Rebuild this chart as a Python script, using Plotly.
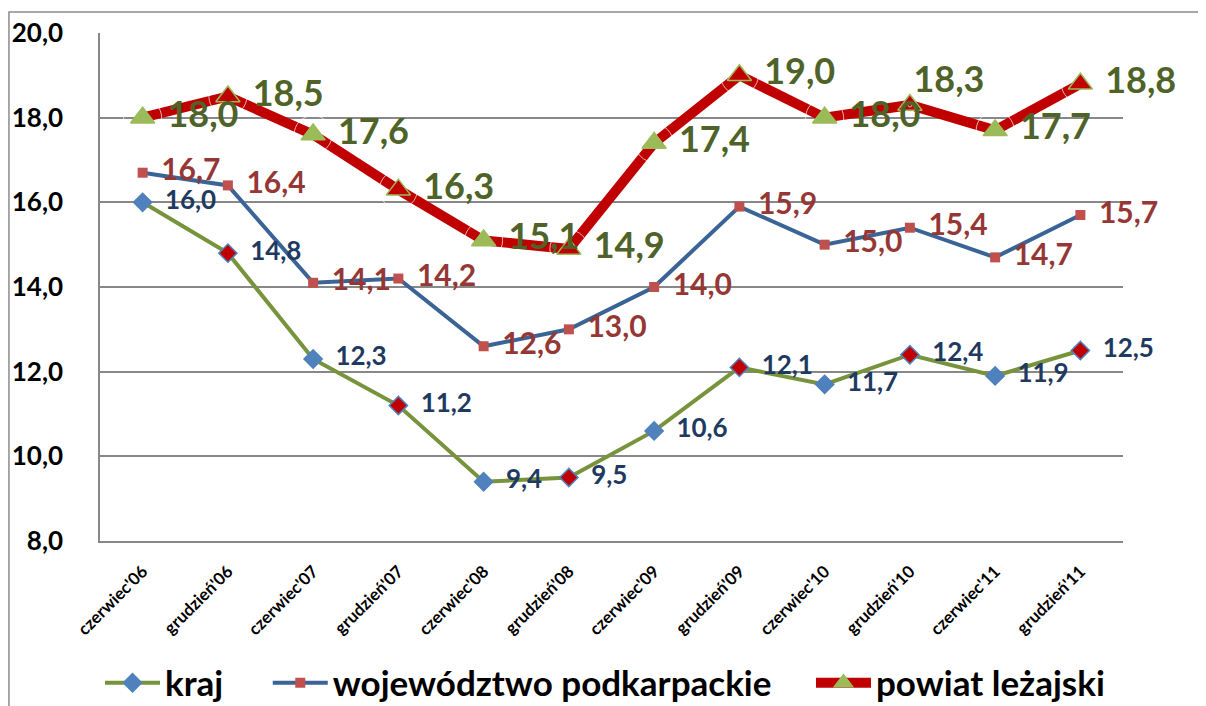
import plotly.graph_objects as go

categories = ["czerwiec'06", "grudzień'06", "czerwiec'07", "grudzień'07", "czerwiec'08", "grudzień'08",
              "czerwiec'09", "grudzień'09", "czerwiec'10", "grudzień'10", "czerwiec'11", "grudzień'11"]
kraj = [16.0, 14.8, 12.3, 11.2, 9.4, 9.5, 10.6, 12.1, 11.7, 12.4, 11.9, 12.5]
wojewodztwo = [16.7, 16.4, 14.1, 14.2, 12.6, 13.0, 14.0, 15.9, 15.0, 15.4, 14.7, 15.7]
powiat = [18.0, 18.5, 17.6, 16.3, 15.1, 14.9, 17.4, 19.0, 18.0, 18.3, 17.7, 18.8]
series_names = ["kraj", "województwo podkarpackie", "powiat leżajski"]
y_ticks = [8, 10, 12, 14, 16, 18, 20]

FONT = "Lato"


def lab(vals):
    return [f"{v:.1f}".replace(".", ",") for v in vals]


is_june = [c.startswith("czerwiec") for c in categories]
kraj_fill = ["#4F81BD" if j else "#C00000" for j in is_june]
pow_fill = ["#9BBB59" if j else "#C00000" for j in is_june]

fig = go.Figure()

fig.add_trace(go.Scatter(
    x=categories, y=kraj, name=series_names[0], mode="lines+markers", legend="legend",
    line=dict(color="#77933C", width=4),
    marker=dict(symbol="diamond", size=14, color=kraj_fill, line=dict(color="#4F81BD", width=1.5)),
    cliponaxis=False,
))
fig.add_trace(go.Scatter(
    x=categories, y=wojewodztwo, name=series_names[1], mode="lines+markers", legend="legend2",
    line=dict(color="#3A6396", width=4),
    marker=dict(symbol="square", size=10, color="#C0504D"),
    cliponaxis=False,
))
fig.add_trace(go.Scatter(
    x=categories, y=powiat, name=series_names[2], mode="lines+markers", legend="legend3",
    line=dict(color="#C00000", width=10),
    marker=dict(symbol="triangle-up", size=21, color=pow_fill, line=dict(color="#9BBB59", width=1.5)),
    cliponaxis=False,
))

# data labels drawn on top of all series
fig.add_trace(go.Scatter(
    x=categories, y=kraj, mode="markers+text", showlegend=False, hoverinfo="skip",
    marker=dict(size=34, color="rgba(0,0,0,0)"),
    text=lab(kraj), textposition="middle right",
    textfont=dict(family=FONT, size=26, color="#1F3A60", weight="bold"),
    cliponaxis=False,
))
fig.add_trace(go.Scatter(
    x=categories, y=wojewodztwo, mode="markers+text", showlegend=False, hoverinfo="skip",
    marker=dict(size=28, color="rgba(0,0,0,0)"),
    text=lab(wojewodztwo), textposition="middle right",
    textfont=dict(family=FONT, size=30, color="#953735", weight="bold"),
    cliponaxis=False,
))
pow_pos = ["middle right"] * len(powiat)
pow_pos[9] = "top right"
pow_size = [38] * len(powiat)
pow_size[9] = 4
fig.add_trace(go.Scatter(
    x=categories, y=powiat, mode="markers+text", showlegend=False, hoverinfo="skip",
    marker=dict(size=pow_size, color="rgba(0,0,0,0)"),
    text=lab(powiat), textposition=pow_pos,
    textfont=dict(family=FONT, size=36, color="#4F6228", weight="bold"),
    cliponaxis=False,
))

legend_style = dict(
    orientation="h", xanchor="left", y=-0.2795, yanchor="middle",
    itemwidth=55,
    font=dict(family=FONT, size=35, color="black", weight="bold"),
    bgcolor="rgba(0,0,0,0)",
)

# page body adds an 8px offset; margins compensate
fig.update_layout(
    width=1206, height=706,
    margin=dict(l=92, r=91, t=25, b=173, autoexpand=False),
    paper_bgcolor="white", plot_bgcolor="white",
    separators=", ",
    font=dict(family=FONT, color="black"),
    showlegend=True,
    legend=dict(x=0.0, **legend_style),
    legend2=dict(x=0.164, **legend_style),
    legend3=dict(x=0.695, **legend_style),
    xaxis=dict(
        type="category", range=[-0.5, len(categories) - 0.5], automargin=False,
        tickangle=-45, showgrid=False,
        showline=True, linecolor="#888888", linewidth=1.5,
        ticks="", ticklabelstandoff=12,
        tickfont=dict(family=FONT, size=17, color="black", weight="bold"),
    ),
    yaxis=dict(
        range=[8, 20], tickvals=y_ticks, tickformat=".1f", automargin=False,
        showgrid=True, gridcolor="#888888", gridwidth=1.5,
        showline=True, linecolor="#888888", linewidth=1.5,
        zeroline=False, ticks="", ticklabelstandoff=30,
        tickfont=dict(family=FONT, size=26, color="black", weight="bold"),
    ),
    shapes=[dict(type="rect", xref="paper", yref="paper",
                 x0=-0.089, x1=1.09, y0=-0.35, y1=1.0413,
                 line=dict(color="#8C8C8C", width=1.5), layer="below")],
)

fig.write_html("out.html")
